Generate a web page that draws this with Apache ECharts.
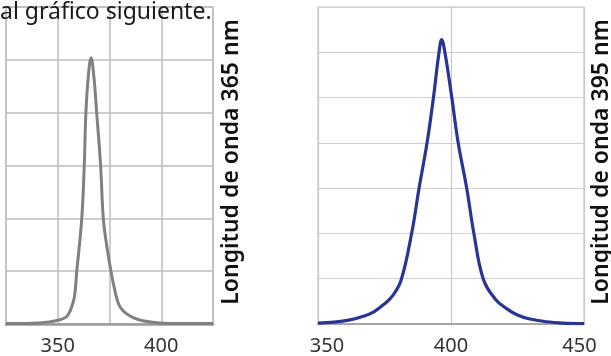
<!DOCTYPE html>
<html>
<head>
<meta charset="utf-8">
<script src="https://cdn.jsdelivr.net/npm/echarts@6/dist/echarts.min.js"></script>
<style>
  html, body { margin: 0; padding: 0; background: #fff; }
  #chart { width: 611px; height: 356px; }
</style>
</head>
<body>
<div id="chart"></div>
<script>
// 365 nm spectrum (left panel), relative intensity in grid rows
const leftWavelengths = [325, 335, 341, 346, 350, 354, 356, 358, 359.2, 361.6, 362.8, 363.6, 364.8, 366.1, 367.4, 368.8, 370.7, 372, 373.6, 375.7, 377.5, 379, 380.5, 383, 386.4, 391, 399, 410, 425];
const leftIntensity = [0.01, 0.01, 0.02, 0.04, 0.07, 0.13, 0.25, 0.5, 1.0, 2.0, 3.0, 4.0, 4.7, 5.04, 4.7, 4.0, 3.0, 2.0, 1.5, 1.0, 0.65, 0.42, 0.3, 0.2, 0.12, 0.06, 0.02, 0.01, 0.01];
const leftTickLabels = [350, 400];

// 395 nm spectrum (right panel)
const rightWavelengths = [350, 356, 362, 367, 371, 375.3, 378, 381.2, 385.2, 388, 391, 393.4, 395.5, 396.5, 397.7, 400.3, 402.7, 405.9, 408.6, 412.1, 416.5, 420.9, 425, 429.7, 436, 442, 450];
const rightIntensity = [0.02, 0.04, 0.09, 0.17, 0.27, 0.46, 0.62, 0.96, 2.0, 3.0, 4.0, 5.0, 6.0, 6.28, 6.0, 5.0, 4.0, 3.0, 2.0, 1.0, 0.56, 0.34, 0.2, 0.11, 0.05, 0.02, 0.01];
const rightTickLabels = [350, 400, 450];

const titleText = 'al gráfico siguiente.';
const leftName = 'Longitud de onda 365 nm';
const rightName = 'Longitud de onda 395 nm';

const pairs = (xs, ys) => xs.map((x, i) => [x, ys[i]]);

const chart = echarts.init(document.getElementById('chart'));

const labelFont = { fontFamily: 'Noto Sans', fontSize: 20, color: '#333' };

chart.setOption({
  animation: false,
  backgroundColor: '#fff',
  grid: [
    { left: 6, top: 7, width: 207, height: 323, show: true, borderColor: '#bdbdbd', borderWidth: 1.5 },
    { left: 318, top: 7, width: 266, height: 322, show: true, borderColor: '#c8c8c8', borderWidth: 1.2 }
  ],
  xAxis: [
    {
      type: 'value', gridIndex: 0, min: 325, max: 425, interval: 25,
      axisLine: { lineStyle: { color: '#9a9a9a', width: 2.5 } },
      axisTick: { show: false },
      splitLine: { lineStyle: { color: '#bdbdbd', width: 1.5 } },
      axisLabel: Object.assign({ margin: 12, formatter: v => leftTickLabels.includes(v) ? String(v) : '' }, labelFont)
    },
    {
      type: 'value', gridIndex: 1, min: 350, max: 450, interval: 50,
      axisLine: { lineStyle: { color: '#a6a6a6', width: 2 } },
      axisTick: { show: false },
      splitLine: { lineStyle: { color: '#c8c8c8', width: 1.2 } },
      axisLabel: Object.assign({
        margin: 12,
        formatter: v => !rightTickLabels.includes(v) ? '' : (v === 350 ? '{a|' + v + '}' : (v === 450 ? '{b|' + v + '}' : String(v))),
        rich: {
          a: Object.assign({ padding: [0, 0, 0, 18] }, labelFont),
          b: Object.assign({ padding: [0, 9, 0, 0] }, labelFont)
        }
      }, labelFont)
    }
  ],
  yAxis: [
    {
      type: 'value', gridIndex: 0, min: 0, max: 6, interval: 1,
      axisLine: { show: false }, axisTick: { show: false }, axisLabel: { show: false },
      splitLine: { lineStyle: { color: '#bdbdbd', width: 1.5 } }
    },
    {
      type: 'value', gridIndex: 1, min: 0, max: 7, interval: 1,
      axisLine: { show: false }, axisTick: { show: false }, axisLabel: { show: false },
      splitLine: { lineStyle: { color: '#d0d0d0', width: 1.2 } }
    }
  ],
  series: [
    {
      type: 'line', xAxisIndex: 0, yAxisIndex: 0,
      data: pairs(leftWavelengths, leftIntensity),
      showSymbol: false, smooth: 0.4,
      lineStyle: { color: '#808080', width: 3 }
    },
    {
      type: 'line', xAxisIndex: 1, yAxisIndex: 1,
      data: pairs(rightWavelengths, rightIntensity),
      showSymbol: false, smooth: 0.4,
      lineStyle: { color: '#283593', width: 3.2 }
    }
  ],
  graphic: [
    {
      type: 'text', left: 0, top: 1, z: 10,
      style: { text: titleText, fontFamily: 'Noto Sans', fontSize: 23, fill: '#1a1a1a' }
    },
    {
      type: 'text', x: 231, y: 162, rotation: Math.PI / 2, z: 10,
      style: { text: leftName, fontFamily: 'Noto Sans', fontWeight: 600, fontSize: 23, fill: '#111', align: 'center', verticalAlign: 'middle' }
    },
    {
      type: 'text', x: 601, y: 162, rotation: Math.PI / 2, z: 10,
      style: { text: rightName, fontFamily: 'Noto Sans', fontWeight: 600, fontSize: 23, fill: '#111', align: 'center', verticalAlign: 'middle' }
    }
  ]
});
</script>
</body>
</html>
